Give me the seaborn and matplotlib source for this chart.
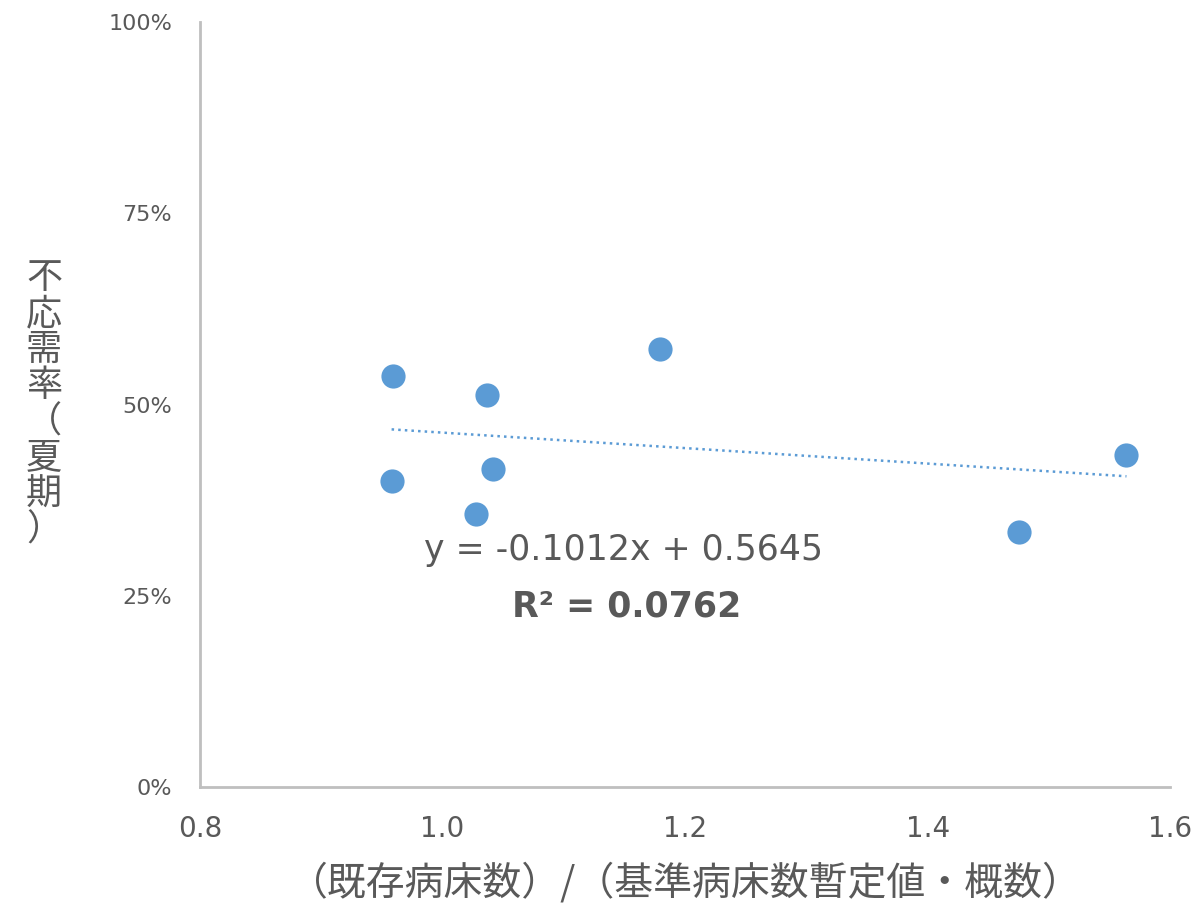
import matplotlib
matplotlib.use("Agg")
import matplotlib.pyplot as plt
import seaborn as sns
import numpy as np
import pandas as pd

x_vals = [0.959, 0.958, 1.037, 1.042, 1.028, 1.179, 1.564, 1.475]
y_vals = [0.537, 0.400, 0.512, 0.416, 0.357, 0.573, 0.434, 0.333]
slope, intercept = -0.1012, 0.5645
eq_text = "y = -0.1012x + 0.5645"
r2_text = "R² = 0.0762"
xlabel = "（既存病床数）/（基準病床数暫定値・概数）"
ylabel = "不応需率（夏期）"

sns.set_theme(style="white")
plt.rcParams['font.family'] = ['DejaVu Sans', 'Noto Sans CJK JP']

fig = plt.figure(figsize=(11.94, 9.19), dpi=100)
ax = fig.add_axes([0.1675, 0.1436, 0.8125, 0.8324])
df = pd.DataFrame({"x": x_vals, "y": y_vals})
sns.scatterplot(data=df, x="x", y="y", ax=ax, color="#5b9bd5", s=260, edgecolor="#5b9bd5", zorder=3)
xs = np.array([min(x_vals), max(x_vals)])
ax.plot(xs, slope * xs + intercept, linestyle=":", color="#5b9bd5", lw=1.8)

ax.set_xlim(0.8, 1.6)
ax.set_ylim(0, 1)
ax.set_xticks([0.8, 1.0, 1.2, 1.4, 1.6])
ax.set_xticklabels(["0.8", "1.0", "1.2", "1.4", "1.6"])
ax.set_yticks([0, 0.25, 0.5, 0.75, 1.0])
ax.set_yticklabels(["0%", "25%", "50%", "75%", "100%"])
ax.tick_params(axis='x', labelsize=20, colors="#595959", pad=14)
ax.tick_params(axis='y', labelsize=16, colors="#595959", pad=14)
for s in ["top", "right"]:
    ax.spines[s].set_visible(False)
for s in ["left", "bottom"]:
    ax.spines[s].set_color("#bfbfbf")
    ax.spines[s].set_linewidth(2)
ax.set_xlabel(xlabel, fontsize=28, color="#595959", labelpad=14, family=['Noto Sans CJK JP'])
ax.set_ylabel("")
fig.text(0.037, 0.56, "\n".join(ylabel), fontsize=26, color="#595959", ha="center", va="center",
         linespacing=1.0, family=['Noto Sans CJK JP'])
ax.text(0.985, 0.31, eq_text, fontsize=25, color="#595959", ha="left", va="center")
ax.text(1.057, 0.236, r2_text, fontsize=25, color="#595959", ha="left", va="center", fontweight="bold")
fig.savefig("out.png", dpi=100)
